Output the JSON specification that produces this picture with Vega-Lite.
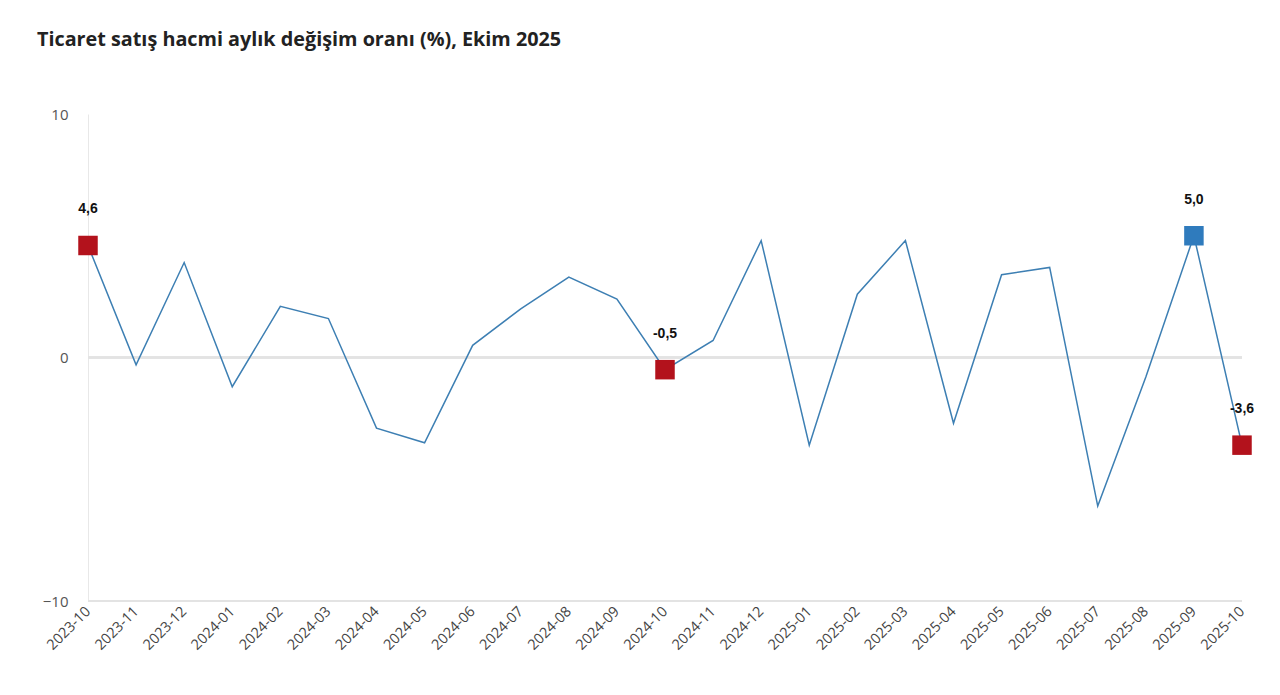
{
  "$schema": "https://vega.github.io/schema/vega-lite/v6.json",
  "width": 1154,
  "height": 487,
  "autosize": {"type": "none"},
  "padding": {"left": 88, "top": 114, "right": 38, "bottom": 94},
  "background": "white",
  "view": {"stroke": null},
  "title": {
    "text": "Ticaret satış hacmi aylık değişim oranı (%), Ekim 2025",
    "anchor": "start",
    "frame": "group",
    "dx": -51,
    "offset": 57,
    "font": "Open Sans",
    "fontSize": 19.8,
    "fontWeight": "bold",
    "color": "#222222"
  },
  "data": {
    "values": [
      {"month": "2023-10", "value": 4.6, "marker": "Ekim", "label": "4,6"},
      {"month": "2023-11", "value": -0.3},
      {"month": "2023-12", "value": 3.9},
      {"month": "2024-01", "value": -1.2},
      {"month": "2024-02", "value": 2.1},
      {"month": "2024-03", "value": 1.6},
      {"month": "2024-04", "value": -2.9},
      {"month": "2024-05", "value": -3.5},
      {"month": "2024-06", "value": 0.5},
      {"month": "2024-07", "value": 2.0},
      {"month": "2024-08", "value": 3.3},
      {"month": "2024-09", "value": 2.4},
      {"month": "2024-10", "value": -0.5, "marker": "Ekim", "label": "-0,5"},
      {"month": "2024-11", "value": 0.7},
      {"month": "2024-12", "value": 4.8},
      {"month": "2025-01", "value": -3.6},
      {"month": "2025-02", "value": 2.6},
      {"month": "2025-03", "value": 4.8},
      {"month": "2025-04", "value": -2.7},
      {"month": "2025-05", "value": 3.4},
      {"month": "2025-06", "value": 3.7},
      {"month": "2025-07", "value": -6.1},
      {"month": "2025-08", "value": -0.8},
      {"month": "2025-09", "value": 5.0, "marker": "Maks", "label": "5,0"},
      {"month": "2025-10", "value": -3.6, "marker": "Ekim", "label": "-3,6"}
    ]
  },
  "encoding": {
    "x": {
      "field": "month",
      "type": "ordinal",
      "sort": null,
      "scale": {"type": "point", "padding": 0},
      "axis": {
        "title": null,
        "labelAngle": -45,
        "labelAlign": "right",
        "labelBaseline": "middle",
        "labelPadding": 8,
        "labelFont": "Open Sans",
        "labelFontSize": 14.5,
        "labelColor": "#444444",
        "ticks": false,
        "domain": false,
        "grid": false
      }
    },
    "y": {
      "field": "value",
      "type": "quantitative",
      "scale": {"domain": [-10, 10], "nice": false, "zero": false},
      "axis": {
        "title": null,
        "values": [-10, 0, 10],
        "labelFont": "Open Sans",
        "labelFontSize": 15,
        "labelColor": "#555555",
        "labelPadding": 20,
        "ticks": false,
        "domainColor": "#e8e8e8",
        "domainWidth": 1,
        "grid": false
      }
    }
  },
  "layer": [
    {
      "mark": {"type": "rule", "color": "#e3e3e3", "strokeWidth": 2},
      "encoding": {"y": {"datum": 0}, "x": {"value": 0}, "x2": {"value": 1154}}
    },
    {
      "mark": {"type": "rule", "color": "#e3e3e3", "strokeWidth": 2},
      "encoding": {"y": {"datum": -10}, "x": {"value": 0}, "x2": {"value": 1154}}
    },
    {
      "mark": {"type": "line", "color": "#3d7fb3", "strokeWidth": 1.5}
    },
    {
      "transform": [{"filter": "datum.marker != null"}],
      "mark": {"type": "square", "size": 380, "opacity": 1, "filled": true},
      "encoding": {
        "color": {
          "field": "marker",
          "type": "nominal",
          "scale": {"domain": ["Ekim", "Maks"], "range": ["#b3121c", "#2f7bbd"]},
          "legend": null
        }
      }
    },
    {
      "transform": [{"filter": "datum.marker != null"}],
      "mark": {
        "type": "text",
        "dy": -36,
        "font": "Liberation Sans",
        "fontSize": 14,
        "fontWeight": "bold",
        "color": "#111111",
        "baseline": "middle",
        "align": "center"
      },
      "encoding": {"text": {"field": "label"}}
    }
  ]
}
